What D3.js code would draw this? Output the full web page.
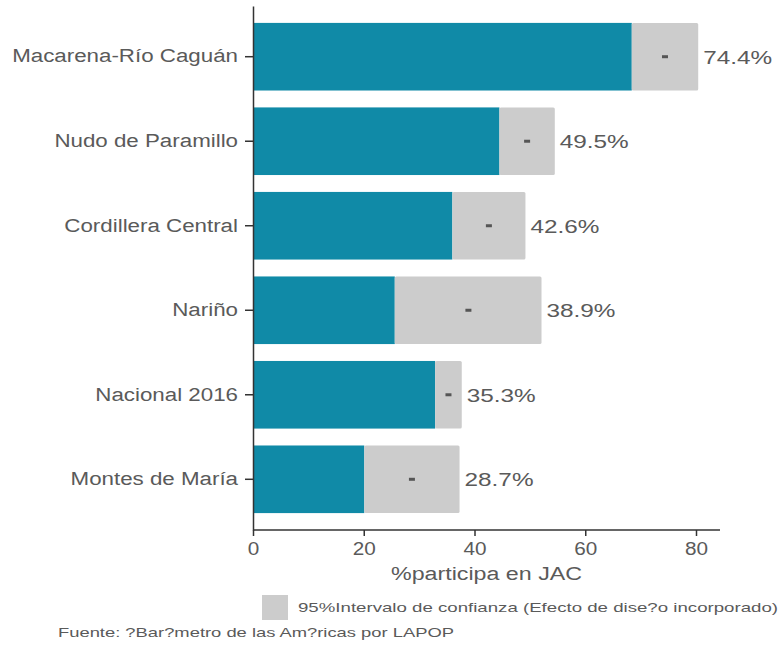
<!DOCTYPE html>
<html>
<head>
<meta charset="utf-8">
<script src="https://cdn.jsdelivr.net/npm/d3@7"></script>
<style>
  body { margin: 0; background: #fff; }
  text { font-family: "Liberation Sans", Arial, sans-serif; fill: #5a5a5a; }
</style>
</head>
<body>
<svg id="chart" width="782" height="648"></svg>
<script>
// data
var categories = ['Macarena-Río Caguán', 'Nudo de Paramillo', 'Cordillera Central', 'Nariño', 'Nacional 2016', 'Montes de María'];
var estimates = [74.4, 49.5, 42.6, 38.9, 35.3, 28.7];
var lowerCI = [68.4, 44.5, 36.0, 25.6, 32.9, 20.1];
var upperCI = [80.4, 54.5, 49.2, 52.1, 37.7, 37.3];
var xTicks = [0, 20, 40, 60, 80];

var rows = categories.map(function(c, i) {
  return { name: c, est: estimates[i], lo: lowerCI[i], hi: upperCI[i] };
});

var svg = d3.select('#chart');

var x = d3.scaleLinear().domain([0, 80]).range([253, 696]);
var y = d3.scaleBand().domain(categories).range([6, 530]).paddingInner(0.2).paddingOuter(0.2);

// the source picture has wide glyphs, so stretch text horizontally
function stretch(sel, k) {
  sel.each(function() {
    var w = this.getComputedTextLength();
    d3.select(this).attr('textLength', w * k).attr('lengthAdjust', 'spacingAndGlyphs');
  });
}

var bars = svg.append('g').selectAll('.row')
  .data(rows)
  .enter().append('g')
  .attr('class', 'row');

// teal part up to the lower bound
bars.append('rect')
  .attr('x', x(0))
  .attr('y', function(d) { return y(d.name) })
  .attr('width', function(d) { return x(d.lo) - x(0) })
  .attr('height', y.bandwidth())
  .attr('fill', '#108aa7');

// confidence interval
bars.append('rect')
  .attr('x', function(d) { return x(d.lo) })
  .attr('y', function(d) { return y(d.name) })
  .attr('width', function(d) { return x(d.hi) - x(d.lo) })
  .attr('height', y.bandwidth())
  .attr('rx', 1.5)
  .attr('fill', '#cccccc');

// point estimate marker
bars.append('rect')
  .attr('x', function(d) { return x(d.est) - 3 })
  .attr('y', function(d) { return y(d.name) + y.bandwidth() / 2 - 1.5 })
  .attr('width', 6)
  .attr('height', 3)
  .attr('fill', '#555');

var valueLabels = bars.append('text')
  .attr('x', function(d) { return x(d.hi) + 5 })
  .attr('y', function(d) { return y(d.name) + y.bandwidth() / 2 })
  .attr('dy', '0.36em')
  .style('font-size', '19px')
  .text(function(d) { return d.est.toFixed(1) + '%' });
stretch(valueLabels, 1.28);

// axes
var xAxis = svg.append('g')
  .attr('transform', 'translate(0,530)')
  .call(d3.axisBottom(x).tickValues(xTicks).tickSize(6).tickPadding(6));
xAxis.select('.domain').attr('d', 'M253,0H720').attr('stroke', '#333').attr('stroke-width', 1.5);
xAxis.selectAll('.tick line').attr('stroke', '#333').attr('stroke-width', 1.5);
xAxis.selectAll('.tick text')
  .style('font-size', '18px')
  .style('font-family', '"Liberation Sans", Arial, sans-serif')
  .attr('fill', '#5a5a5a');
stretch(xAxis.selectAll('.tick text'), 1.15);

var yAxis = svg.append('g')
  .attr('transform', 'translate(253,0)')
  .call(d3.axisLeft(y).tickSize(8).tickPadding(7).tickSizeOuter(0));
yAxis.select('.domain').attr('stroke', '#333').attr('stroke-width', 1.5);
yAxis.selectAll('.tick line').attr('stroke', '#333').attr('stroke-width', 1.5);
yAxis.selectAll('.tick text')
  .style('font-size', '18px')
  .style('font-family', '"Liberation Sans", Arial, sans-serif')
  .attr('fill', '#5a5a5a');
stretch(yAxis.selectAll('.tick text'), 1.24);

var title = svg.append('text')
  .attr('x', (253 + 720) / 2)
  .attr('y', 580)
  .attr('text-anchor', 'middle')
  .style('font-size', '18px')
  .text('%participa en JAC');
stretch(title, 1.29);

// legend
svg.append('rect')
  .attr('x', 262).attr('y', 595)
  .attr('width', 26).attr('height', 25)
  .attr('fill', '#cccccc');
svg.append('text')
  .attr('x', 298).attr('y', 612)
  .style('font-size', '13.5px')
  .attr('textLength', 480)
  .attr('lengthAdjust', 'spacingAndGlyphs')
  .text('95%Intervalo de confianza (Efecto de dise?o incorporado)');

svg.append('text')
  .attr('x', 58).attr('y', 637)
  .style('font-size', '13px')
  .attr('textLength', 396)
  .attr('lengthAdjust', 'spacingAndGlyphs')
  .text('Fuente: ?Bar?metro de las Am?ricas por LAPOP');
</script>
</body>
</html>
